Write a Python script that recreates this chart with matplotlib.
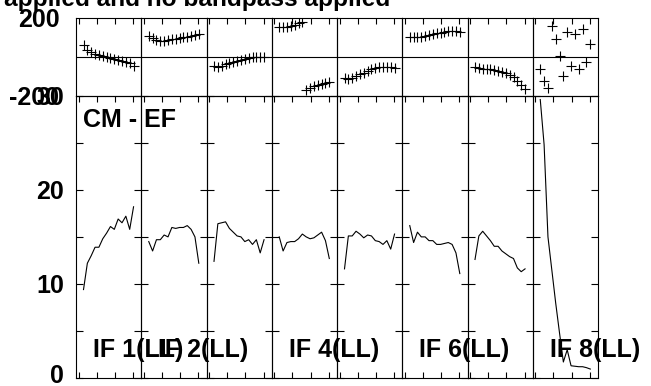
import numpy as np
import matplotlib
matplotlib.use("Agg")
import matplotlib.pyplot as plt
import matplotlib.transforms as mtrans

plt.rcParams['font.family'] = ['Liberation Sans', 'DejaVu Sans']
plt.rcParams['font.weight'] = 'bold'

# channels per IF
channels = np.arange(1, 15)

# phase (degrees) per IF
ph_if1 = [58, 36, 24, 16, 10, 4, -2, -8, -12, -17, -22, -27, -32, -45]
ph_if2 = [106, 94, 86, 82, 82, 86, 89, 91, 94, 99, 103, 108, 111, 116]
ph_if3 = [-46, -51, -46, -37, -31, -26, -20, -17, -13, -8, -3, 0, 0, -3]
ph_if4 = [154, 150, 154, 157, 163, 171, 178, -171, -162, -152, -145, -138, -134, -132]
ph_if5 = [-111, -114, -111, -99, -89, -82, -72, -65, -60, -55, -51, -51, -55, -60]
ph_if6 = [103, 99, 99, 103, 106, 111, 115, 120, 123, 127, 132, 133, 133, 128]
ph_if7 = [-55, -60, -65, -65, -65, -68, -72, -77, -85, -94, -106, -125, -145, -167]
ph_if8 = [-63, -125, -159, 159, 89, 4, -99, 128, -46, 115, -63, 142, -26, 65]

# amplitude per IF
amp_if1 = [9.4, 12.2, 13.0, 13.9, 13.9, 14.8, 15.4, 16.1, 15.8, 16.9, 16.5, 17.2, 15.8, 18.2]
amp_if2 = [14.5, 13.5, 14.7, 14.7, 15.2, 15.0, 16.0, 15.9, 16.0, 16.0, 16.2, 15.8, 15.0, 12.2]
amp_if3 = [12.4, 16.4, 16.5, 16.6, 15.9, 15.5, 15.1, 15.0, 14.5, 14.7, 14.2, 14.7, 13.3, 14.7]
amp_if4 = [15.0, 13.5, 14.4, 14.5, 14.5, 14.8, 15.3, 15.0, 14.8, 14.9, 15.2, 15.5, 14.6, 12.7]
amp_if5 = [11.6, 15.1, 15.1, 15.6, 15.3, 14.9, 15.2, 15.1, 14.6, 14.5, 14.2, 14.6, 13.7, 15.3]
amp_if6 = [16.2, 14.4, 15.5, 15.0, 15.0, 14.6, 14.6, 14.2, 14.2, 14.3, 14.4, 14.2, 13.3, 11.1]
amp_if7 = [12.6, 15.1, 15.6, 15.1, 14.6, 14.0, 14.0, 13.5, 13.2, 12.9, 12.7, 11.7, 11.3, 11.6]
amp_if8 = [29.6, 24.8, 15.0, 11.5, 8.0, 4.8, 1.7, 3.0, 1.3, 1.25, 1.2, 1.2, 1.1, 0.95]

phases = [ph_if1, ph_if2, ph_if3, ph_if4, ph_if5, ph_if6, ph_if7, ph_if8]
amps = [amp_if1, amp_if2, amp_if3, amp_if4, amp_if5, amp_if6, amp_if7, amp_if8]
if_labels = ["IF 1(LL)", "IF 2(LL)", "", "IF 4(LL)", "", "IF 6(LL)", "", "IF 8(LL)"]

W, H = 651, 386
fig = plt.figure(figsize=(W / 100, H / 100), dpi=100)
gs = fig.add_gridspec(2, 8, left=76 / W, right=598 / W, top=1 - 17.7 / H,
                      bottom=1 - 378 / H, wspace=0, hspace=0,
                      height_ratios=[78, 282])

xticks = np.linspace(-0.3, 13.9, 4)
fs = 18

for i in range(8):
    ax_ph = fig.add_subplot(gs[0, i])
    ax_amp = fig.add_subplot(gs[1, i])

    #phase panel
    ax_ph.plot(channels, phases[i], "+", color="black", ms=7, mew=0.8)
    ax_ph.axhline(0, color="black", lw=0.8)
    ax_ph.set_xlim(-0.95, 16.0)
    ax_ph.set_ylim(-200, 200)
    ax_ph.set_xticks(xticks)
    ax_ph.tick_params(axis="x", direction="in", length=4, width=0.8,
                      top=True, bottom=False, labelbottom=False)
    if i == 0:
        ax_ph.set_yticks([-200, 200])
        ax_ph.set_yticklabels(["-200", "200"], fontsize=fs, fontweight="bold")
        ax_ph.tick_params(axis="y", length=0, pad=12)
    else:
        ax_ph.set_yticks([])

    #amplitude panel
    ax_amp.plot(channels, amps[i], color="black", lw=0.8)
    ax_amp.set_xlim(-0.95, 16.0)
    ax_amp.set_ylim(0, 30)
    ax_amp.set_xticks(xticks)
    ax_amp.set_xticklabels([])
    ax_amp.set_yticks(range(0, 31, 5))
    ax_amp.tick_params(axis="x", direction="in", length=4, width=0.8,
                       top=True, bottom=True)
    ax_amp.tick_params(axis="y", direction="in", length=5, width=0.8,
                       left=True, right=True, pad=8.5)
    if i == 0:
        ax_amp.set_yticklabels(["0", "", "10", "", "20", "", "30"],
                               fontsize=fs, fontweight="bold")
        # lift the bottom label so it stays inside the figure
        lab0 = ax_amp.get_yticklabels()[0]
        lab0.set_transform(lab0.get_transform() +
                           mtrans.ScaledTranslation(0, 0.05, fig.dpi_scale_trans))
        ax_amp.text(0.1, 0.89, "CM - EF", transform=ax_amp.transAxes,
                    fontsize=fs, fontweight="bold", va="baseline")
    else:
        ax_amp.set_yticklabels([])

    if if_labels[i]:
        ax_amp.text(0.26, 0.074, if_labels[i], transform=ax_amp.transAxes,
                    fontsize=fs, fontweight="bold", va="baseline",
                    clip_on=False, zorder=10)

    for ax in (ax_ph, ax_amp):
        ax.set_facecolor("none")
        for sp in ax.spines.values():
            sp.set_linewidth(0.8)

fig.text(4 / W, 1 - 6 / H, "applied and no bandpass applied", ha="left",
         va="baseline", fontsize=17.6, fontweight="bold")

plt.savefig("out.png", dpi=100)
